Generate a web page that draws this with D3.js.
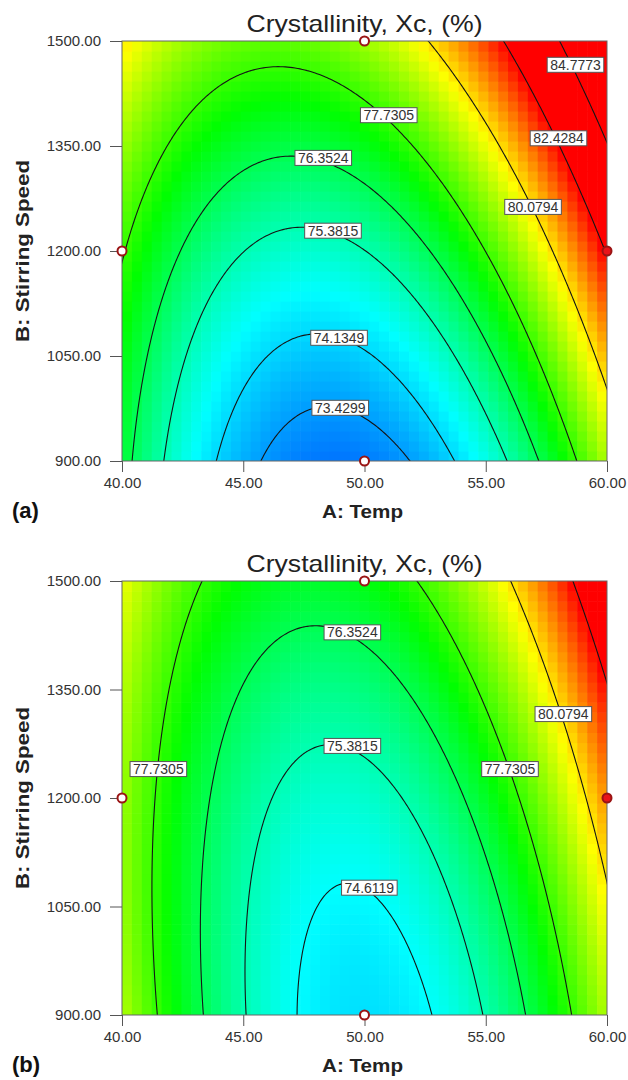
<!DOCTYPE html>
<html><head><meta charset="utf-8">
<script src="https://cdn.jsdelivr.net/npm/d3@7"></script>
<style>
body{margin:0;background:#fff;}
svg{display:block;font-family:"Liberation Sans",Arial,sans-serif;}
</style></head><body>
<svg id="chart" width="628" height="1080"></svg>
<script>
//axis ticks
var tempTicks=[40,45,50,55,60];
var speedTicks=[900,1050,1200,1350,1500];

//quadratic response surfaces, coded units a=(T-50)/10, b=(S-1200)/300
//order: const, a, b, ab, a^2, b^2
var coefA=[75.37,2.35,2.885,1.2,4.8,0.56];
var coefB=[75.10,1.083,1.398,1.083,4.78,0.54];

//contour levels
var levelsA=[73.4299,74.1349,75.3815,76.3524,77.7305,80.0794,82.4284,84.7773];
var levelsB=[74.6119,75.3815,76.3524,77.7305,80.0794,82.4284];

//contour labels: level, temp, speed
var labLevA=[73.4299,74.1349,75.3815,76.3524,77.7305,80.0794,82.4284,84.7773];
var labTempA=[49.0,48.95,48.7,48.3,51.0,56.95,58.0,58.7];
var labSpeedA=[976,1076,1229,1333,1394,1263,1361,1466];
var labLevB=[74.6119,75.3815,76.3524,77.7305,77.7305,80.0794];
var labTempB=[50.2,49.5,49.5,41.5,56.0,58.2];
var labSpeedB=[1076,1272,1429,1240,1240,1316];

//design points
var ptTemp=[40,50,50,60];
var ptSpeed=[1200,1500,900,1200];
var ptFill=["#fff","#fff","#fff","#e8141a"];

//colour ramp
var colorVals=[71.6,74.6,77.2,79.8,82.4];
var colorHex=["#0000ff","#00ffff","#00ff00","#ffff00","#ff0000"];

var svg=d3.select("#chart");
var left=122,right=607;
var color=d3.scaleLinear().domain(colorVals).range(colorHex).clamp(true);
var defs=svg.append("defs");

function surf(c,T,S){
    var a=(T-50)/10,b=(S-1200)/300;
    return c[0]+c[1]*a+c[2]*b+c[3]*a*b+c[4]*a*a+c[5]*b*b;
}

function panel(id,top,bottom,coef,levels,labLev,labTemp,labSpeed,tag){
    var x=d3.scaleLinear().domain([40,60]).range([left,right]);
    var y=d3.scaleLinear().domain([900,1500]).range([bottom,top]);
    var g=svg.append("g");

    defs.append("clipPath").attr("id","clip"+id).append("rect")
        .attr("x",left).attr("y",top).attr("width",right-left).attr("height",bottom-top);

    //heat map cells
    var nx=Math.round((right-left)/10),ny=Math.round((bottom-top)/10);
    var dT=20/nx,dS=600/ny;
    var cells=[];
    for(var j=0;j<ny;j++){for(var i=0;i<nx;i++){cells.push([i,j]);}}
    g.append("g").attr("clip-path","url(#clip"+id+")").selectAll("rect").data(cells).enter().append("rect")
        .attr("x",function(d){return x(40+d[0]*dT);})
        .attr("y",function(d){return y(900+(d[1]+1)*dS);})
        .attr("width",x(40+dT)-x(40)+0.6)
        .attr("height",y(900)-y(900+dS)+0.6)
        .attr("fill",function(d){return color(surf(coef,40+(d[0]+0.5)*dT,900+(d[1]+0.5)*dS));});

    //contour lines
    var n=220,m=220,T0=39,T1=61,S0=870,S1=1530;
    var vals=new Array(n*m);
    for(var j=0;j<m;j++){
        for(var i=0;i<n;i++){
            vals[j*n+i]=surf(coef,T0+(T1-T0)*i/(n-1),S0+(S1-S0)*j/(m-1));
        }
    }
    var gx=d3.scaleLinear().domain([0.5,n-0.5]).range([T0,T1]);
    var gy=d3.scaleLinear().domain([0.5,m-0.5]).range([S0,S1]);
    var proj=d3.geoTransform({point:function(u,v){this.stream.point(x(gx(u)),y(gy(v)));}});
    var path=d3.geoPath(proj);
    g.append("g").attr("clip-path","url(#clip"+id+")").selectAll("path")
        .data(d3.contours().size([n,m]).thresholds(levels)(vals)).enter().append("path")
        .attr("d",path).attr("fill","none").attr("stroke","#151515").attr("stroke-width",1.1);

    //frame
    g.append("rect").attr("x",left).attr("y",top).attr("width",right-left).attr("height",bottom-top)
        .attr("fill","none").attr("stroke","#666").attr("stroke-width",1);

    //axes
    var ya=g.append("g").attr("transform","translate("+left+",0)")
        .call(d3.axisLeft(y).tickValues(speedTicks).tickFormat(d3.format(".2f")).tickSize(12).tickPadding(9).tickSizeOuter(0));
    var xa=g.append("g").attr("transform","translate(0,"+bottom+")")
        .call(d3.axisBottom(x).tickValues(tempTicks).tickFormat(d3.format(".2f")).tickSize(11).tickPadding(5).tickSizeOuter(0));
    [ya,xa].forEach(function(a){
        a.select(".domain").remove();
        a.selectAll("line").attr("stroke","#555");
        a.selectAll("text").attr("font-size",15).attr("fill","#333").attr("font-family","Liberation Sans,Arial,sans-serif");
    });

    //contour labels
    for(var k=0;k<labLev.length;k++){
        var lg=g.append("g").attr("transform","translate("+x(labTemp[k])+","+y(labSpeed[k])+")");
        var box=lg.append("rect");
        var t=lg.append("text").attr("text-anchor","middle").attr("y",5).attr("font-size",14)
            .attr("fill","#333").text(d3.format(".4f")(labLev[k]));
        var w=t.node().getComputedTextLength()+6;
        box.attr("x",-w/2).attr("y",-7.5).attr("width",w).attr("height",15)
            .attr("fill","#fff").attr("stroke","#555").attr("stroke-width",1);
    }

    //design points
    g.selectAll("circle.pt").data(ptTemp).enter().append("circle")
        .attr("cx",function(d){return x(d);})
        .attr("cy",function(d,i){return y(ptSpeed[i]);})
        .attr("r",4.5)
        .attr("fill",function(d,i){return ptFill[i];})
        .attr("stroke","#9a1414").attr("stroke-width",2);

    //titles
    g.append("text").attr("x",(left+right)/2).attr("y",top-9).attr("text-anchor","middle")
        .attr("font-size",24).attr("fill","#222").attr("textLength",236).attr("lengthAdjust","spacingAndGlyphs")
        .text("Crystallinity, Xc, (%)");
    g.append("text").attr("x",(left+right)/2-2).attr("y",bottom+57).attr("text-anchor","middle")
        .attr("font-size",19).attr("font-weight","bold").attr("fill","#222")
        .attr("textLength",81).attr("lengthAdjust","spacingAndGlyphs").text("A: Temp");
    g.append("text").attr("transform","translate(29,"+((top+bottom)/2)+") rotate(-90)").attr("text-anchor","middle")
        .attr("font-size",19).attr("font-weight","bold").attr("fill","#222")
        .attr("textLength",182).attr("lengthAdjust","spacingAndGlyphs").text("B: Stirring Speed");
    g.append("text").attr("x",12).attr("y",bottom+57)
        .attr("font-size",22).attr("font-weight","bold").attr("fill","#111").text(tag);
}

panel("a",41,461,coefA,levelsA,labLevA,labTempA,labSpeedA,"(a)");
panel("b",581,1015,coefB,levelsB,labLevB,labTempB,labSpeedB,"(b)");
</script>
</body></html>
